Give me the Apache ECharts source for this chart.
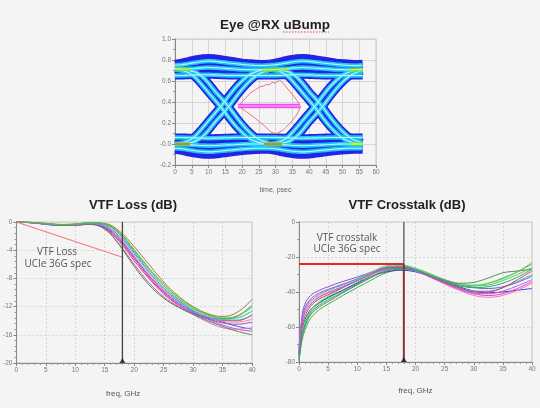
<!DOCTYPE html>
<html lang="en">
<head>
<meta charset="UTF-8">
<title>Eye @RX uBump / VTF Loss / VTF Crosstalk</title>
<script src="https://cdn.jsdelivr.net/npm/echarts/dist/echarts.min.js"></script>
<style>
    html, body { margin: 0; padding: 0; background: #f4f4f4; }
    #main { width: 540px; height: 408px; }
</style>
</head>
<body>
<div id="main"></div>
<script>
// ---- eye diagram: time axis of the two unit-interval windows (ps)
var eyeT1 = [0, 2, 4, 6, 8, 10, 12, 14, 16, 18, 20, 22, 24, 26, 28];
var eyeT2 = [28, 30, 32, 34, 36, 38, 40, 42, 44, 46, 48, 50, 52, 54, 56];

// trajectories (V), one value per time point
var eyeHiOuter = [0.765, 0.775, 0.79, 0.805, 0.815, 0.82, 0.815, 0.805, 0.795, 0.785, 0.775, 0.77, 0.765, 0.762, 0.765];
var eyeHiUpper = [0.75, 0.755, 0.765, 0.775, 0.785, 0.79, 0.787, 0.78, 0.772, 0.765, 0.758, 0.752, 0.748, 0.746, 0.75];
var eyeHiMid = [0.71, 0.712, 0.716, 0.72, 0.725, 0.728, 0.726, 0.722, 0.718, 0.714, 0.71, 0.708, 0.706, 0.706, 0.71];
var eyeHiLower = [0.652, 0.652, 0.655, 0.658, 0.66, 0.66, 0.658, 0.655, 0.653, 0.652, 0.652, 0.652, 0.652, 0.652, 0.652];
var eyeLoUpper = [0.062, 0.062, 0.06, 0.058, 0.056, 0.055, 0.056, 0.058, 0.06, 0.062, 0.062, 0.062, 0.062, 0.062, 0.062];
var eyeLoMid = [0.0, -0.002, -0.006, -0.01, -0.014, -0.016, -0.015, -0.012, -0.008, -0.005, -0.002, 0.0, 0.0, 0.0, 0.0];
var eyeLoLower = [-0.04, -0.045, -0.055, -0.065, -0.072, -0.075, -0.072, -0.066, -0.06, -0.054, -0.048, -0.044, -0.041, -0.04, -0.04];
var eyeLoOuter = [-0.055, -0.065, -0.08, -0.092, -0.1, -0.102, -0.1, -0.092, -0.083, -0.075, -0.067, -0.061, -0.057, -0.055, -0.055];
var eyeFall1 = [0.71, 0.70, 0.68, 0.635, 0.565, 0.49, 0.415, 0.34, 0.255, 0.175, 0.11, 0.055, 0.025, 0.008, 0.0];
var eyeFall2 = [0.715, 0.71, 0.70, 0.685, 0.645, 0.58, 0.50, 0.43, 0.355, 0.27, 0.19, 0.12, 0.065, 0.03, 0.01];
var eyeRise1 = [0.0, 0.01, 0.03, 0.075, 0.145, 0.22, 0.295, 0.37, 0.455, 0.535, 0.60, 0.655, 0.685, 0.702, 0.71];
var eyeRise2 = [-0.005, 0.0, 0.01, 0.025, 0.065, 0.13, 0.21, 0.28, 0.355, 0.44, 0.52, 0.59, 0.645, 0.68, 0.70];

// high density spots
var hotHigh = [[[0, 0.715], [4.5, 0.712]], [[26, 0.705], [31.5, 0.71]], [[32.5, 0.712], [34, 0.716]], [[52, 0.705], [56, 0.71]]];
var hotLow = [[[0, 0.0], [4.5, 0.0]], [[26.5, 0.0], [32, 0.0]], [[52.5, 0.0], [56, 0.0]]];

// eye mask and eye contour
var eyeMask = [[18.8, 0.362], [37.3, 0.362]];
var eyeContour = [[18.9, 0.362], [22.4, 0.483], [25.4, 0.546], [26.5, 0.552], [27.2, 0.568], [28, 0.562], [29, 0.586],
    [30, 0.58], [31.2, 0.61], [32.3, 0.578], [34.3, 0.50], [36.3, 0.42], [37.5, 0.355], [36.3, 0.276], [34.3, 0.197],
    [32.3, 0.133], [30.4, 0.10], [28.9, 0.108], [26.4, 0.18], [23.4, 0.26], [18.9, 0.362]];

// ---- VTF loss (dB)
var lossFreq = [0, 2.5, 5, 7.5, 10, 12.5, 15, 17.5, 20, 22.5, 25, 27.5, 30, 32.5, 35, 37.5, 40];
var loss01 = [0, -0.1, -0.3, -0.45, -0.4, -0.3, -0.9, -2.8, -5.5, -8.0, -10.2, -11.8, -12.9, -13.6, -14.0, -14.0, -13.2];
var loss02 = [0, -0.1, -0.3, -0.5, -0.45, -0.3, -0.7, -2.4, -5.0, -7.6, -9.8, -11.5, -12.7, -13.5, -14.2, -14.8, -15.2];
var loss03 = [0, -0.05, -0.2, -0.35, -0.3, -0.1, -0.2, -1.3, -3.5, -6.0, -8.5, -10.5, -12.0, -13.0, -13.4, -12.8, -11.0];
var loss04 = [0, -0.05, -0.25, -0.4, -0.35, -0.15, -0.35, -1.8, -4.3, -7.0, -9.3, -11.1, -12.5, -13.4, -13.8, -13.4, -12.0];
var loss05 = [0, -0.1, -0.3, -0.5, -0.45, -0.35, -1.0, -3.2, -6.0, -8.6, -10.6, -12.0, -13.0, -13.8, -14.6, -15.2, -15.5];
var loss06 = [0, -0.1, -0.35, -0.5, -0.45, -0.3, -0.8, -2.6, -5.2, -7.8, -10.0, -11.7, -12.9, -13.7, -14.3, -14.5, -14.2];
var loss07 = [0, -0.05, -0.2, -0.35, -0.3, -0.1, -0.3, -1.6, -4.1, -6.7, -9.0, -10.9, -12.3, -13.2, -13.7, -13.6, -12.6];
var loss08 = [0, -0.1, -0.3, -0.45, -0.4, -0.25, -0.6, -2.2, -4.8, -7.4, -9.6, -11.3, -12.6, -13.5, -14.1, -14.2, -13.8];
var loss09 = [0, -0.1, -0.3, -0.45, -0.4, -0.25, -0.6, -2.3, -4.9, -7.6, -9.9, -11.7, -13.1, -14.2, -15.0, -15.2, -15.0];
var loss10 = [0, -0.1, -0.3, -0.5, -0.45, -0.3, -1.0, -3.3, -6.3, -8.9, -10.8, -12.1, -13.1, -14.0, -14.8, -15.5, -16.0];
var loss11 = [0, -0.05, -0.25, -0.4, -0.35, -0.2, -0.5, -2.0, -4.5, -7.1, -9.4, -11.2, -12.6, -13.5, -13.9, -13.9, -13.2];
var loss12 = [0, -0.05, -0.2, -0.35, -0.3, -0.1, -0.25, -1.5, -3.9, -6.5, -8.8, -10.7, -12.1, -13.1, -13.6, -13.3, -11.8];
var lossColors = ['#e83a3a', '#3a56e0', '#a07a3a', '#20b8c8', '#d040d0', '#8a50c8', '#40c040', '#ff7aa0', '#f060e0', '#4a8a4a', '#50a0f0', '#70b040'];
var lossSpec = [[0, 0], [18, -5]];
var lossMarker = [[18, 0], [18, -20]];

// ---- VTF crosstalk (dB)
var xtFreq = [0, 0.5, 1, 2, 3.5, 5, 7.5, 10, 12.5, 15, 17.5, 20, 22.5, 25, 27.5, 30, 32.5, 35, 37.5, 40];
var xt01 = [-72, -54, -47, -42, -39, -37, -34, -31.5, -28.5, -26, -25.5, -27, -30, -33, -35.5, -37.5, -38, -37, -34.5, -31];
var xt02 = [-80, -68, -62, -55, -50, -47, -42, -37.5, -33, -29, -27.5, -28, -30.5, -34, -36, -36.5, -35, -32, -28.5, -24];
var xt03 = [-78, -64, -58, -51, -46.5, -43.5, -39, -34.5, -30, -26.5, -25, -26.5, -29.5, -33, -35.5, -36.5, -36, -33.5, -30, -26];
var xt04 = [-76, -62, -56, -50, -46, -43, -39, -35, -31, -28.5, -27.5, -28.5, -31, -34, -37, -39.5, -40.5, -40, -39, -38];
var xt05 = [-74, -56, -49, -44, -40.5, -38.5, -35.5, -32.5, -29, -26.5, -26, -27.5, -31, -35, -38.5, -41, -42, -41, -38, -34];
var xt06 = [-75, -57, -50, -45, -41.5, -39, -36, -32.5, -28.5, -25.5, -25, -27, -30.5, -34.5, -37.5, -39.5, -39.5, -37.5, -34, -30];
var xt07 = [-77, -63, -57, -50.5, -45.5, -42.5, -37.5, -33, -28.5, -25, -24.5, -26.5, -30, -33.5, -35.5, -36, -35, -32.5, -28.5, -23];
var xt08 = [-79, -66, -60, -53, -48.5, -45.5, -40.5, -36, -31.5, -28, -27, -28, -30.5, -33.5, -35, -34.5, -32, -29, -28, -27];
var xt09 = [-73, -58, -51, -46, -42.5, -40, -37, -33.5, -30, -27, -26.5, -28, -31.5, -35.5, -39, -42, -43, -42, -39, -35];
var xt10 = [-76, -60, -54, -48, -44, -41.5, -37.5, -33.5, -29.5, -26.5, -26, -27.5, -31, -34.5, -37.5, -40, -40, -37.5, -33, -28];
var xt11 = [-74, -58, -52, -47, -43, -40.5, -37, -33.5, -29.5, -27, -26.5, -28, -31.5, -35, -38, -40.5, -41, -39.5, -36.5, -33];
var xt12 = [-78, -65, -59, -52, -47.5, -44.5, -40, -35.5, -31, -27.5, -26.5, -27.5, -30.5, -34, -36.5, -37.5, -37, -35, -31.5, -27];
var xtColors = ['#8a50d0', '#40b040', '#50d050', '#3040d0', '#e040c0', '#20b8d0', '#60e060', '#5a8a5a', '#ff70c0', '#e83a3a', '#b060f0', '#30a090'];
var xtSpecLine = [[0, -24], [18, -24]];
var xtMarkerTop = [[18, 0], [18, -24]];
var xtMarkerBottom = [[18, -24], [18, -80]];

// ---------------------------------------------------------------
var chart = echarts.init(document.getElementById('main'));

function zip(xs, ys) {
    return xs.map(function (x, i) { return [x, ys[i]]; });
}

function line(grid, data, color, width, smooth, z) {
    return {
        type: 'line', xAxisIndex: grid, yAxisIndex: grid, data: data,
        showSymbol: false, symbol: 'none', smooth: smooth, silent: true,
        lineStyle: { color: color, width: width }, z: z || 2
    };
}

function axisStyle(grid, min, max, interval, minorSplit, extra) {
    var a = {
        gridIndex: grid, type: 'value', min: min, max: max, interval: interval,
        axisLine: { show: true, onZero: false, lineStyle: { color: '#888', width: 1 } },
        axisTick: { show: true, length: 3, lineStyle: { color: '#888' } },
        minorTick: { show: minorSplit > 0, splitNumber: minorSplit || 5, length: 2, lineStyle: { color: '#999' } },
        axisLabel: { fontSize: 6.5, color: '#777', fontFamily: 'Arial', margin: 4 },
        splitLine: { show: true, lineStyle: { color: '#cfcfcf', width: 0.8, type: grid === 0 ? 'solid' : [2, 2] } }
    };
    for (var k in extra) a[k] = extra[k];
    return a;
}

var series = [];

// eye: dark blue body, cyan core, light centre line
var eyeShapes = [eyeFall1, eyeFall2, eyeRise1, eyeRise2, eyeHiUpper, eyeHiMid, eyeHiLower, eyeLoUpper, eyeLoMid, eyeLoLower];
var eyeWindows = [eyeT1, eyeT2];
eyeWindows.forEach(function (t) {
    [eyeHiOuter, eyeLoOuter].concat(eyeShapes).forEach(function (s) {
        series.push(line(0, zip(t, s), '#2424e6', 8, 0.4));
    });
});
eyeWindows.forEach(function (t) {
    eyeShapes.forEach(function (s) {
        series.push(line(0, zip(t, s), '#1ec6f2', 4.4, 0.4));
    });
});
eyeWindows.forEach(function (t) {
    eyeShapes.forEach(function (s) {
        series.push(line(0, zip(t, s), '#bdf3ff', 1.1, 0.4));
    });
});
hotHigh.forEach(function (d) {
    series.push(line(0, d, '#5cdc46', 3.6, false, 3));
    series.push(line(0, d, '#eef070', 1.2, false, 3));
});
hotLow.forEach(function (d, i) {
    series.push(line(0, d, '#5cdc46', 3.6, false, 3));
    series.push(line(0, d, i < 2 ? '#f06a3a' : '#eef070', 1.4, false, 3));
});
series.push(line(0, eyeContour, '#e87878', 1, false, 4));
series.push(line(0, eyeMask, '#f050f0', 4.5, false, 5));
series.push(line(0, eyeMask, '#ffb0ff', 1.2, false, 5));

// loss
[loss01, loss02, loss03, loss04, loss05, loss06, loss07, loss08, loss09, loss10, loss11, loss12].forEach(function (s, i) {
    series.push(line(1, zip(lossFreq, s), lossColors[i], 1, 0.4));
});
series.push(line(1, lossSpec, '#f07070', 1, false, 4));
series.push(line(1, lossMarker, '#444', 1.3, false, 5));
series.push({
    type: 'scatter', xAxisIndex: 1, yAxisIndex: 1, data: [lossMarker[1]], symbol: 'triangle',
    symbolSize: [6, 5], symbolOffset: [0, -2.5], itemStyle: { color: '#222' }, silent: true, clip: false, z: 6
});

// crosstalk
[xt01, xt02, xt03, xt04, xt05, xt06, xt07, xt08, xt09, xt10, xt11, xt12].forEach(function (s, i) {
    series.push(line(2, zip(xtFreq, s), xtColors[i], 1, 0.35));
});
series.push(line(2, xtSpecLine, '#e42828', 1.8, false, 4));
series.push(line(2, xtMarkerTop, '#555', 1.3, false, 5));
series.push(line(2, xtMarkerBottom, '#8c3434', 2, false, 5));
series.push({
    type: 'scatter', xAxisIndex: 2, yAxisIndex: 2, data: [xtMarkerBottom[1]], symbol: 'triangle',
    symbolSize: [6, 5], symbolOffset: [0, -2.5], itemStyle: { color: '#222' }, silent: true, clip: false, z: 6
});

var nameStyle = { fontSize: 8, color: '#555', fontFamily: 'Arial' };

var eyeY = axisStyle(0, -0.2, 1.0, 0.2, 2, {});
eyeY.axisLabel.formatter = function (v) {
    return Math.abs(v) < 1e-6 ? '-0.0' : v.toFixed(1);
};

var option = {
    backgroundColor: '#f4f4f4',
    animation: false,
    grid: [
        { left: 175, top: 39, width: 201, height: 126, show: true, borderColor: '#c8c8c8', borderWidth: 1 },
        { left: 16, top: 222, width: 236, height: 141, show: true, borderColor: '#c8c8c8', borderWidth: 1 },
        { left: 299, top: 222, width: 233, height: 140, show: true, borderColor: '#c8c8c8', borderWidth: 1 }
    ],
    xAxis: [
        axisStyle(0, 0, 60, 5, 0, {
            name: 'time, psec', nameLocation: 'middle', nameGap: 22,
            nameTextStyle: { fontSize: 7, color: '#666', fontFamily: 'Arial' }
        }),
        axisStyle(1, 0, 40, 5, 5, {
            name: 'freq, GHz', nameLocation: 'middle', nameGap: 27,
            nameTextStyle: { fontSize: 8, color: '#555', fontFamily: 'Arial', padding: [0, 22, 0, 0] }
        }),
        axisStyle(2, 0, 40, 5, 5, {
            name: 'freq, GHz', nameLocation: 'middle', nameGap: 25, nameTextStyle: nameStyle
        })
    ],
    yAxis: [
        eyeY,
        axisStyle(1, -20, 0, 4, 5, {}),
        axisStyle(2, -80, 0, 20, 2, {})
    ],
    graphic: [
        { type: 'text', x: 275, y: 25, style: { text: 'Eye @RX uBump', textAlign: 'center', textVerticalAlign: 'middle', font: 'bold 13.5px Arial', fill: '#222' } },
        { type: 'line', shape: { x1: 283, y1: 32, x2: 329, y2: 32 }, style: { stroke: '#e04848', lineWidth: 1, lineDash: [1.5, 1.5] } },
        { type: 'text', x: 133, y: 205, style: { text: 'VTF Loss (dB)', textAlign: 'center', textVerticalAlign: 'middle', font: 'bold 13px Arial', fill: '#222' } },
        { type: 'text', x: 407, y: 205, style: { text: 'VTF Crosstalk (dB)', textAlign: 'center', textVerticalAlign: 'middle', font: 'bold 13px Arial', fill: '#222' } },
        { type: 'text', x: 57, y: 252, z: 10, style: { text: 'VTF Loss', textAlign: 'center', textVerticalAlign: 'middle', font: '10px "Open Sans"', fill: '#555' } },
        { type: 'text', x: 58, y: 264.5, z: 10, style: { text: 'UCIe 36G spec', textAlign: 'center', textVerticalAlign: 'middle', font: '10px "Open Sans"', fill: '#555' } },
        { type: 'text', x: 347, y: 238.5, z: 10, style: { text: 'VTF crosstalk', textAlign: 'center', textVerticalAlign: 'middle', font: '10px "Open Sans"', fill: '#555' } },
        { type: 'text', x: 347, y: 249.5, z: 10, style: { text: 'UCIe 36G spec', textAlign: 'center', textVerticalAlign: 'middle', font: '10px "Open Sans"', fill: '#555' } }
    ],
    series: series
};

chart.setOption(option);
</script>
</body>
</html>
